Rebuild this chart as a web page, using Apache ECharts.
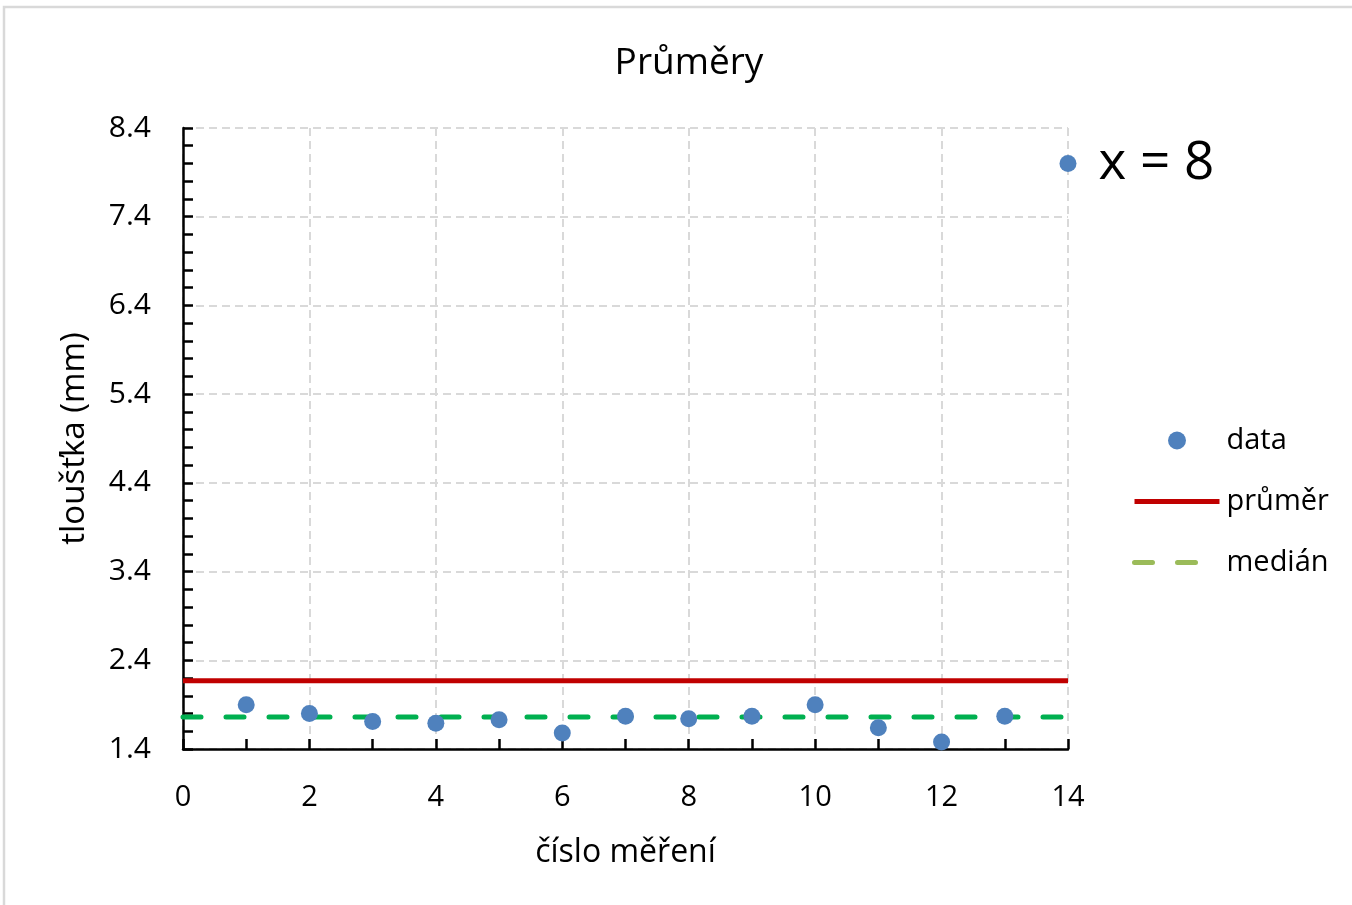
<!DOCTYPE html>
<html>
<head>
<meta charset="utf-8">
<script src="https://cdn.jsdelivr.net/npm/echarts@6/dist/echarts.min.js"></script>
<style>html,body{margin:0;padding:0;background:#fff;}#c{width:1352px;height:905px;}</style>
</head>
<body>
<div id="c"></div>
<script>
// measurement number (x) and thickness (mm)
const measurementNo = [1, 2, 3, 4, 5, 6, 7, 8, 9, 10, 11, 12, 13, 14];
const thickness = [1.90, 1.80, 1.71, 1.69, 1.73, 1.58, 1.77, 1.74, 1.77, 1.90, 1.64, 1.48, 1.77, 8.00];
const meanValue = 2.17;   // průměr
const medianValue = 1.76; // medián
const lineRange = [0, 14];
const xTicks = { min: 0, max: 14, interval: 2 };
const yTicks = { min: 1.4, max: 8.4, interval: 1 };

const FONT = 'Open Sans';
const chart = echarts.init(document.getElementById('c'));

const scatterData = measurementNo.map((x, i) => {
  const item = { value: [x, thickness[i]] };
  if (i === measurementNo.length - 1) {
    item.label = {
      show: true, position: 'right', distance: 22,
      formatter: p => 'x = ' + p.value[1],
      fontFamily: FONT, fontSize: 53, color: '#000'
    };
  }
  return item;
});

chart.setOption({
  animation: false,
  backgroundColor: '#fff',
  graphic: [{
    type: 'rect', shape: { x: 4, y: 7, width: 1400, height: 1000 },
    style: { fill: 'none', stroke: '#d9d9d9', lineWidth: 2.5 }, silent: true
  }],
  title: {
    text: 'Průměry', left: 684, top: 40, textAlign: 'center',
    textStyle: { fontFamily: FONT, fontSize: 37, fontWeight: 'normal', color: '#000' }
  },
  legend: {
    orient: 'vertical', left: 1127, top: 421,
    itemWidth: 85, itemHeight: 18, itemGap: 32,
    lineStyle: { width: 5 },
    textStyle: { fontFamily: FONT, fontSize: 29, color: '#000', padding: [0, 0, 0, 2] },
    data: [
      { name: 'data', icon: 'circle' },
      { name: 'průměr', itemStyle: { opacity: 0 } },
      { name: 'medián', itemStyle: { color: '#9BBB59', opacity: 0 }, lineStyle: { color: '#9BBB59', width: 5 } }
    ]
  },
  grid: { left: 183, right: 284, top: 128, bottom: 156, containLabel: false },
  xAxis: {
    type: 'value', min: xTicks.min, max: xTicks.max, interval: xTicks.interval,
    name: 'číslo měření', nameLocation: 'middle', nameGap: 88,
    nameTextStyle: { fontFamily: FONT, fontSize: 32, color: '#000' },
    axisLine: { show: true, lineStyle: { color: '#000', width: 2.5 } },
    axisTick: { show: true, inside: true, length: 10, lineStyle: { color: '#000', width: 2.5 } },
    minorTick: { show: true, splitNumber: 2, length: 10, lineStyle: { color: '#000', width: 2.5 } },
    axisLabel: { fontFamily: FONT, fontSize: 29, color: '#000', margin: 34 },
    splitLine: { show: true, lineStyle: { color: '#d9d9d9', width: 2, type: [8, 5] } }
  },
  yAxis: {
    type: 'value', min: yTicks.min, max: yTicks.max, interval: yTicks.interval,
    name: 'tloušťka (mm)', nameLocation: 'middle', nameGap: 92,
    nameTextStyle: { fontFamily: FONT, fontSize: 33, color: '#000' },
    axisLine: { show: true, lineStyle: { color: '#000', width: 2.5 } },
    axisTick: { show: true, inside: true, length: 10, lineStyle: { color: '#000', width: 2.5 } },
    minorTick: { show: true, splitNumber: 5, length: 10, lineStyle: { color: '#000', width: 2.5 } },
    axisLabel: { fontFamily: FONT, fontSize: 30, color: '#000', margin: 32, formatter: v => v.toFixed(1) },
    splitLine: { show: true, lineStyle: { color: '#d9d9d9', width: 2, type: [8, 5] } }
  },
  series: [
    {
      name: 'průměr', type: 'line', symbol: 'none', z: 2,
      data: lineRange.map(x => [x, meanValue]),
      lineStyle: { color: '#C00000', width: 5 }, itemStyle: { color: '#C00000' }
    },
    {
      name: 'medián', type: 'line', symbol: 'none', z: 2,
      data: lineRange.map(x => [x, medianValue]),
      lineStyle: { color: '#00B050', width: 5, type: [18, 25], cap: 'round' }, itemStyle: { color: '#00B050' }
    },
    {
      name: 'data', type: 'scatter', symbol: 'circle', symbolSize: 17, z: 3,
      data: scatterData,
      itemStyle: { color: '#4F81BD', opacity: 1 }
    }
  ]
});
</script>
</body>
</html>
